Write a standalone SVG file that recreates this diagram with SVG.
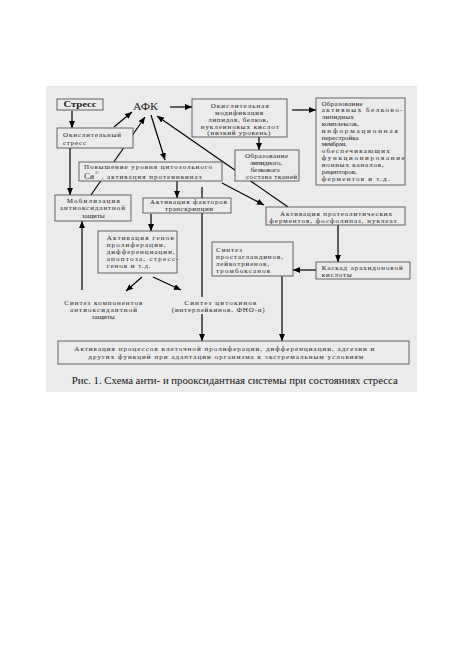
<svg xmlns="http://www.w3.org/2000/svg" width="459" height="650" viewBox="0 0 459 650">
<defs>
<marker id="ah" markerUnits="userSpaceOnUse" markerWidth="8" markerHeight="7" refX="7" refY="3" orient="auto">
<path d="M0,0 L7,3 L0,6 z" fill="#000"/>
</marker>
<style>
.bx{fill:#ebebeb;stroke:#555;stroke-width:0.9}
.t{font-family:"Liberation Serif","DejaVu Serif",serif;font-size:7px;fill:#222}
.big{font-size:9.5px}
.cap{font-size:9.5px;fill:#111}
.ca{font-size:9px}
.sup{font-size:4.5px}
.bold{font-weight:bold;font-size:7.5px}
.c line{stroke:#000;stroke-width:1.2}
.c .a{marker-end:url(#ah)}
</style>
</defs>
<rect x="0" y="0" width="459" height="650" fill="#fff"/>
<rect x="46" y="86" width="371" height="306" fill="#ebebeb"/>

<g id="connectors" class="c">
<line class="a" x1="72" y1="111" x2="72" y2="128"/>
<line class="a" x1="170" y1="107" x2="192" y2="107"/>
<line class="a" x1="114" y1="127" x2="132" y2="112"/>
<line class="a" x1="91" y1="195" x2="145" y2="117"/>
<line class="a" x1="151" y1="115" x2="165" y2="160"/>
<line class="a" x1="288" y1="207" x2="157" y2="116"/>
<line class="a" x1="222" y1="183" x2="264" y2="205"/>
<line class="a" x1="259" y1="137" x2="259" y2="150"/>
<line class="a" x1="292" y1="110" x2="316" y2="110"/>
<line class="a" x1="70" y1="148" x2="70" y2="195"/>
<line class="a" x1="177" y1="181" x2="177" y2="198"/>
<line x1="202" y1="187" x2="202" y2="297"/>
<line class="a" x1="202" y1="314" x2="202" y2="341"/>
<line class="a" x1="151" y1="214" x2="151" y2="231"/>
<line class="a" x1="142" y1="277" x2="126" y2="291"/>
<line class="a" x1="153" y1="277" x2="181" y2="290"/>
<line class="a" x1="82" y1="290" x2="82" y2="221"/>
<line class="a" x1="338" y1="225" x2="338" y2="262"/>
<line class="a" x1="316" y1="270" x2="293" y2="270"/>
<line class="a" x1="282" y1="276" x2="282" y2="341"/>
</g>

<g id="stress">
<rect class="bx" x="57" y="99" width="46" height="11"/>
<text class="t bold" x="63.5" y="107.3" textLength="33" lengthAdjust="spacingAndGlyphs">Стресс</text>
</g>

<g id="afk">
<text class="t big" x="133" y="109.5" textLength="25" lengthAdjust="spacingAndGlyphs">АФК</text>
</g>

<g id="oxstress">
<rect class="bx" x="57" y="128" width="76" height="20"/>
<text class="t" x="63" y="137" textLength="58" lengthAdjust="spacing">Окислительный</text>
<text class="t" x="63" y="144.5" textLength="23" lengthAdjust="spacing">стресс</text>
</g>

<g id="oxmod">
<rect class="bx" x="192" y="99" width="95" height="38"/>
<text class="t" x="210.7" y="107.5" textLength="58" lengthAdjust="spacing">Окислительная</text>
<text class="t" x="215" y="114.5" textLength="48" lengthAdjust="spacing">модификация</text>
<text class="t" x="208.3" y="121.5" textLength="60" lengthAdjust="spacing">липидов, белков,</text>
<text class="t" x="200.7" y="128.5" textLength="78" lengthAdjust="spacing">нуклеиновых кислот</text>
<text class="t" x="207.3" y="135.3" textLength="63" lengthAdjust="spacing">(низкий уровень)</text>
</g>

<g id="lipid">
<rect class="bx" x="235" y="150" width="64" height="31"/>
<text class="t" x="245" y="157.5" textLength="43" lengthAdjust="spacing">Образование</text>
<text class="t" x="250" y="165" textLength="32" lengthAdjust="spacing">липидного,</text>
<text class="t" x="250.7" y="172" textLength="29" lengthAdjust="spacing">белкового</text>
<text class="t" x="246" y="179.3" textLength="51" lengthAdjust="spacing">состава тканей</text>
</g>

<g id="complexes">
<rect class="bx" x="316" y="98" width="89" height="87"/>
<text class="t" x="321.7" y="105.5" textLength="41" lengthAdjust="spacing">Образование</text>
<text class="t" x="321.7" y="112.3" textLength="81" lengthAdjust="spacing">активных белково-</text>
<text class="t" x="321.7" y="119.1" textLength="32" lengthAdjust="spacing">липидных</text>
<text class="t" x="321.7" y="126" textLength="37" lengthAdjust="spacing">комплексов,</text>
<text class="t" x="321.7" y="132.8" textLength="76" lengthAdjust="spacing">информационная</text>
<text class="t" x="321.7" y="139.6" textLength="37" lengthAdjust="spacing">перестройка</text>
<text class="t" x="321.7" y="146.4" textLength="25" lengthAdjust="spacing">мембран,</text>
<text class="t" x="321.7" y="153.2" textLength="68" lengthAdjust="spacing">обеспечивающих</text>
<text class="t" x="321.7" y="160" textLength="83" lengthAdjust="spacing">функционирование</text>
<text class="t" x="321.7" y="166.9" textLength="62" lengthAdjust="spacing">ионных каналов,</text>
<text class="t" x="321.7" y="173.7" textLength="35" lengthAdjust="spacing">рецепторов,</text>
<text class="t" x="321.7" y="180.5" textLength="68" lengthAdjust="spacing">ферментов и т.д.</text>
</g>

<g id="calcium">
<rect class="bx" x="79" y="162" width="143" height="19"/>
<text class="t" x="84" y="168.8" textLength="128" lengthAdjust="spacing">Повышение уровня цитозольного</text>
<text class="t ca" x="84" y="178.7">Ca</text>
<text class="t sup" x="95.3" y="174.3">2+</text>
<text class="t" x="101.5" y="178.7" textLength="100" lengthAdjust="spacing">, активация протеинкиназ</text>
</g>

<g id="mobil">
<rect class="bx" x="55" y="195" width="76" height="26"/>
<text class="t" x="66.7" y="202.5" textLength="53" lengthAdjust="spacing">Мобилизация</text>
<text class="t" x="60" y="210" textLength="65" lengthAdjust="spacing">антиоксидантной</text>
<text class="t" x="81.7" y="217.5" textLength="23" lengthAdjust="spacing">защиты</text>
</g>

<g id="transcr">
<rect class="bx" x="143" y="198" width="88" height="15"/>
<text class="t" x="150" y="204.3" textLength="77" lengthAdjust="spacing">Активация факторов</text>
<text class="t" x="165" y="211.3" textLength="48" lengthAdjust="spacing">транскрипции</text>
</g>

<g id="genes">
<rect class="bx" x="98" y="231" width="79" height="42"/>
<text class="t" x="106.7" y="240" textLength="67" lengthAdjust="spacing">Активация генов</text>
<text class="t" x="106.7" y="247" textLength="59" lengthAdjust="spacing">пролиферации,</text>
<text class="t" x="106.7" y="254" textLength="68" lengthAdjust="spacing">дифференциации,</text>
<text class="t" x="106.7" y="261" textLength="72" lengthAdjust="spacing">апоптоза, стресс-</text>
<text class="t" x="106.7" y="268" textLength="44" lengthAdjust="spacing">генов и т.д.</text>
</g>

<g id="antiox">
<text class="t" x="64.3" y="304.5" textLength="78" lengthAdjust="spacing">Синтез компонентов</text>
<text class="t" x="70" y="311.5" textLength="67" lengthAdjust="spacing">антиоксидантной</text>
<text class="t" x="91.7" y="319" textLength="23" lengthAdjust="spacing">защиты</text>
</g>

<g id="cytokines">
<text class="t" x="184.3" y="304.5" textLength="72" lengthAdjust="spacing">Синтез цитокинов</text>
<text class="t" x="171.7" y="311.5" textLength="93" lengthAdjust="spacing">(интерлейкинов, ФНО-α)</text>
</g>

<g id="proteol">
<rect class="bx" x="266" y="207" width="139" height="18"/>
<text class="t" x="280" y="215.5" textLength="112" lengthAdjust="spacing">Активация протеолитических</text>
<text class="t" x="269.3" y="222.5" textLength="127" lengthAdjust="spacing">ферментов, фосфолипаз, нуклеаз</text>
</g>

<g id="cascade">
<rect class="bx" x="316" y="262" width="94" height="17"/>
<text class="t" x="321.7" y="269.5" textLength="81" lengthAdjust="spacing">Каскад арахидоновой</text>
<text class="t" x="321.7" y="276.5" textLength="30" lengthAdjust="spacing">кислоты</text>
</g>

<g id="prosta">
<rect class="bx" x="212" y="242" width="81" height="34"/>
<text class="t" x="216" y="251.5" textLength="26" lengthAdjust="spacing">Синтез</text>
<text class="t" x="216" y="258.5" textLength="67" lengthAdjust="spacing">простагландинов,</text>
<text class="t" x="216" y="265.5" textLength="53" lengthAdjust="spacing">лейкотриенов,</text>
<text class="t" x="216" y="272.5" textLength="54" lengthAdjust="spacing">тромбоксанов</text>
</g>

<g id="activation">
<rect class="bx" x="58" y="341" width="351" height="23"/>
<text class="t" x="74.3" y="350.5" textLength="300" lengthAdjust="spacing">Активация процессов клеточной пролиферации, дифференциации, адгезии и</text>
<text class="t" x="88.3" y="359" textLength="275" lengthAdjust="spacing">других функций при адаптации организма к экстремальным условиям</text>
</g>

<text class="t cap" x="71.7" y="384" textLength="326" lengthAdjust="spacingAndGlyphs">Рис. 1. Схема анти- и прооксидантная системы при состояниях стресса</text>
</svg>
